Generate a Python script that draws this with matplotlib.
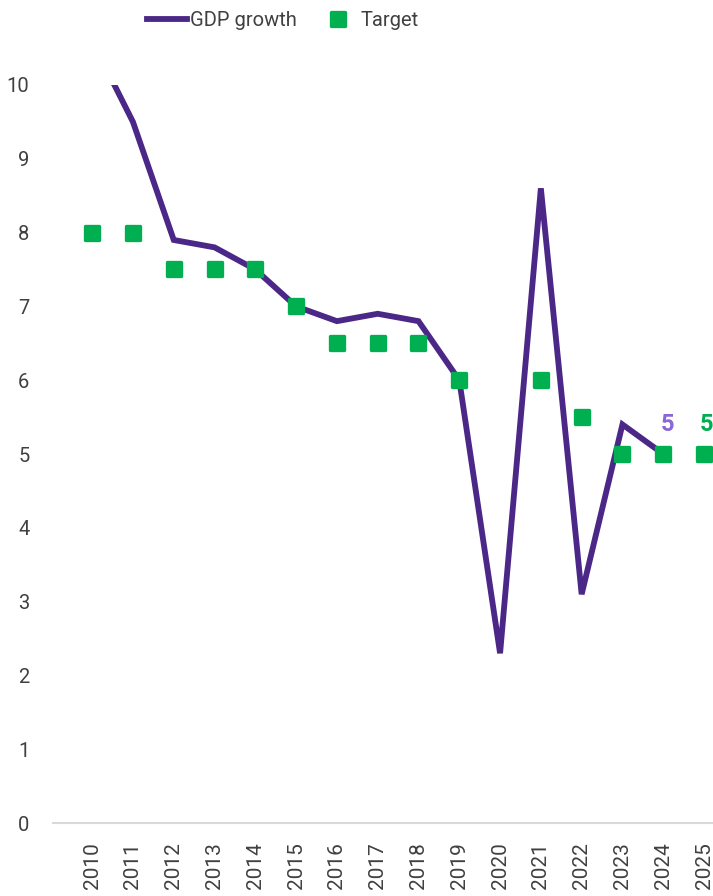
import matplotlib
matplotlib.use("Agg")
import matplotlib.pyplot as plt
from matplotlib.markers import MarkerStyle
import numpy as np

plt.rcParams['font.family'] = ['Roboto', 'DejaVu Sans']

years = ["2010", "2011", "2012", "2013", "2014", "2015", "2016", "2017",
         "2018", "2019", "2020", "2021", "2022", "2023", "2024", "2025"]
gdp_growth = [10.6, 9.5, 7.9, 7.8, 7.5, 7.0, 6.8, 6.9, 6.8, 6.0, 2.3, 8.6,
              3.1, 5.4, 5.0, np.nan]
target = [8.0, 8.0, 7.5, 7.5, 7.5, 7.0, 6.5, 6.5, 6.5, 6.0, np.nan, 6.0,
          5.5, 5.0, 5.0, 5.0]

purple = "#4B2887"
purple_label = "#8A66D6"
green = "#00B050"
text_grey = "#404040"

fig = plt.figure(figsize=(7.13, 8.96), dpi=100)
ax = fig.add_axes([53 / 713, 1 - 823 / 896, 660 / 713, (823 - 85) / 896])

x = np.arange(len(years))
line, = ax.plot(x, gdp_growth, color=purple, lw=4.2, solid_joinstyle='miter',
                label="GDP growth", zorder=2)
sq = MarkerStyle('s', joinstyle='round')
pts, = ax.plot(x, target, linestyle='none', marker=sq, markersize=10,
               markerfacecolor=green, markeredgecolor=green, markeredgewidth=2.4,
               label="Target", zorder=3)

# value labels for the latest points
ax.text(x[14] + 0.1, gdp_growth[14] + 0.25, "5", color=purple_label,
        fontsize=17, fontweight='bold', ha='center', va='bottom', clip_on=False)
ax.text(x[15] + 0.05, target[15] + 0.25, "5", color=green,
        fontsize=17, fontweight='bold', ha='center', va='bottom', clip_on=False)

ax.set_xlim(-0.96, 15.22)
ax.set_ylim(0, 10)
ax.set_yticks(range(0, 11))
ax.set_xticks(x)
ax.set_xticklabels(years, rotation=90, va='top', ha='center')

for s in ['top', 'right', 'left']:
    ax.spines[s].set_visible(False)
ax.spines['bottom'].set_color("#D9D9D9")
ax.spines['bottom'].set_linewidth(1.5)
ax.tick_params(axis='both', length=0, colors=text_grey)
ax.tick_params(axis='y', labelsize=14.5, pad=17)
ax.tick_params(axis='x', labelsize=15, pad=14)

fig.legend(handles=[line, pts], loc='upper center', bbox_to_anchor=(0.397, 1.008),
           ncol=2, frameon=False, fontsize=14.5, handlelength=2.0,
           handletextpad=0.15, columnspacing=1.0, labelcolor=text_grey)

fig.savefig("out.png", dpi=100)
